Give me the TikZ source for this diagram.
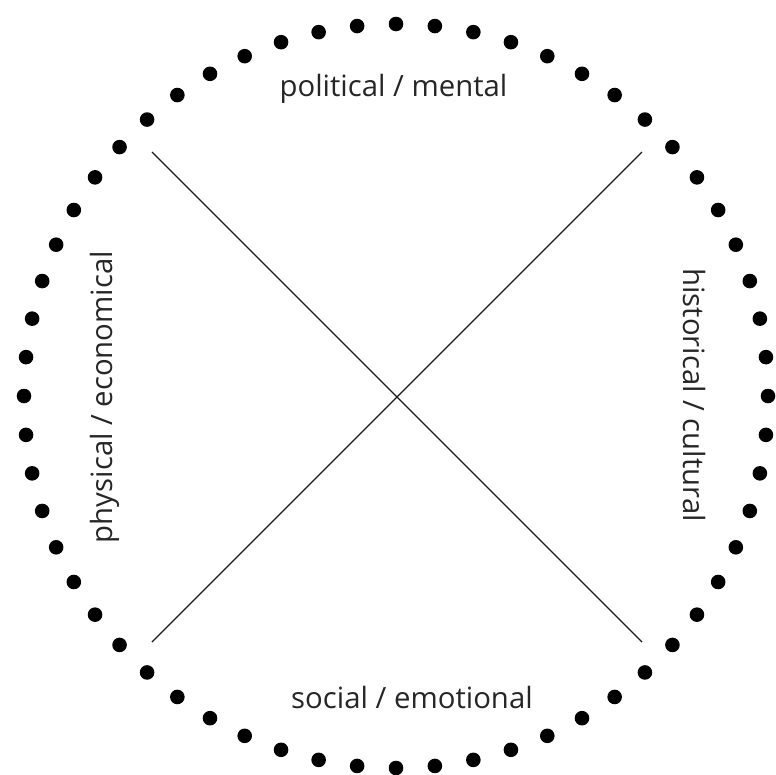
\documentclass[tikz,border=0pt]{standalone}
\usepackage{fontspec}
\setmainfont{Open Sans}
\usepackage{tikz}
\usetikzlibrary{calc}

\begin{document}
\begin{tikzpicture}[x=0.75pt, y=-0.75pt, every node/.style={font=\fontsize{22}{26}\selectfont, text=black!85, inner sep=0pt}]
            \useasboundingbox (0,0) rectangle (776,775);

            \foreach \a in {0,6,...,354}
              \fill ($(396,396)+(\a:372)$) circle (7.3);

            \coordinate (NW) at (152,152);
            \coordinate (NE) at (642,152);
            \coordinate (SW) at (152,642);
            \coordinate (SE) at (642,642);

            \draw[line width=1pt, black!90] (NW) -- (SE);
            \draw[line width=1pt, black!90] (NE) -- (SW);

            \node[anchor=base] (top) at (393.5,96) {political / mental};
            \node[anchor=base] (bottom) at (412,708) {social / emotional};
            \node[anchor=base, rotate=90] (left) at (113,397) {physical / economical};
            \node[anchor=base, rotate=-90] (right) at (683,395) {historical / cultural};
          \end{tikzpicture}
\end{document}
